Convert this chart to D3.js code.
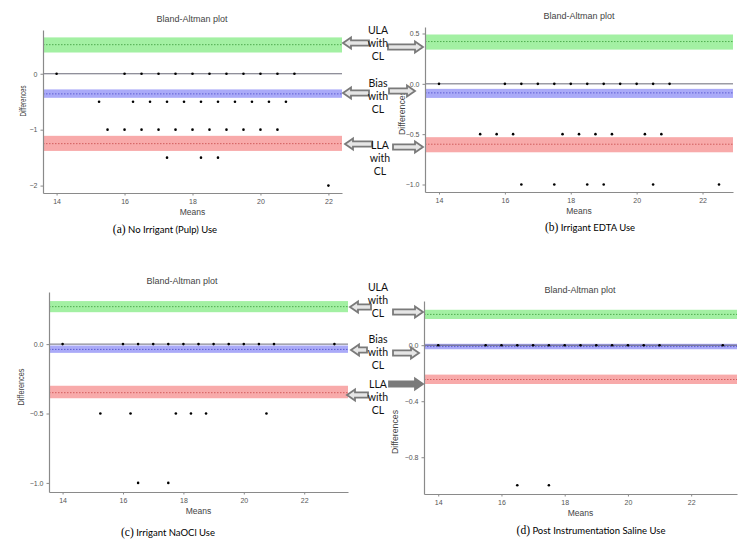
<!DOCTYPE html>
<html>
<head>
<meta charset="utf-8">
<script src="https://cdn.jsdelivr.net/npm/d3@7"></script>
<style>
  body { margin: 0; background: #fff; }
  svg { display: block; }
</style>
</head>
<body>
<svg id="fig" width="750" height="551"></svg>
<script>
// (a) No Irrigant (Pulp)
const aMeans = [14, 16, 16.5, 17, 17.5, 18, 18.5, 19, 19.5, 20, 20.5, 21,
  15.25, 16.25, 16.75, 17.25, 17.75, 18.25, 18.75, 19.25, 19.75, 20.25, 20.75,
  15.5, 16, 16.5, 17, 17.5, 18, 18.5, 19, 19.5, 20, 20.5,
  17.25, 18.25, 18.75,
  22]
const aDiffs = [0, 0, 0, 0, 0, 0, 0, 0, 0, 0, 0, 0,
  -0.5, -0.5, -0.5, -0.5, -0.5, -0.5, -0.5, -0.5, -0.5, -0.5, -0.5,
  -1, -1, -1, -1, -1, -1, -1, -1, -1, -1, -1,
  -1.5, -1.5, -1.5,
  -2]
// [estimate, lower CL, upper CL] for ULA, bias, LLA
const aLimits = [[0.52, 0.38, 0.65], [-0.36, -0.43, -0.28], [-1.25, -1.38, -1.11]]
const aTicks = [0, -1, -2]

// (b) Irrigant EDTA
const bMeans = [14, 16, 16.5, 17, 17.5, 18, 18.5, 19, 19.5, 20, 20.5, 21,
  15.25, 15.75, 16.25, 17.75, 18.25, 18.75, 19.25, 20.25, 20.75,
  16.5, 17.5, 18.5, 19, 20.5, 22.5]
const bDiffs = [0, 0, 0, 0, 0, 0, 0, 0, 0, 0, 0, 0,
  -0.5, -0.5, -0.5, -0.5, -0.5, -0.5, -0.5, -0.5, -0.5,
  -1, -1, -1, -1, -1, -1]
const bLimits = [[0.42, 0.34, 0.49], [-0.09, -0.14, -0.05], [-0.6, -0.68, -0.53]]
const bTicks = [0.5, 0, -0.5, -1]

// (c) Irrigant NaOCl
const cMeans = [14, 16, 16.5, 17, 17.5, 18, 18.5, 19, 19.5, 20, 20.5, 21, 23,
  15.25, 16.25, 17.75, 18.25, 18.75, 20.75,
  16.5, 17.5]
const cDiffs = [0, 0, 0, 0, 0, 0, 0, 0, 0, 0, 0, 0, 0,
  -0.5, -0.5, -0.5, -0.5, -0.5, -0.5,
  -1, -1]
const cLimits = [[0.27, 0.23, 0.31], [-0.038, -0.063, -0.01], [-0.35, -0.39, -0.30]]
const cTicks = [0, -0.5, -1]

// (d) Post Instrumentation Saline
const dMeans = [14, 15.5, 16, 16.5, 17, 17.5, 18, 18.5, 19, 19.5, 20, 20.5, 21, 23,
  16.5, 17.5]
const dDiffs = [0, 0, 0, 0, 0, 0, 0, 0, 0, 0, 0, 0, 0, 0,
  -1, -1]
const dLimits = [[0.22, 0.187, 0.253], [-0.01, -0.029, 0.01], [-0.245, -0.277, -0.21]]
const dTicks = [0, -0.4, -0.8]

const xTicks = [14, 16, 18, 20, 22]
const bandFill = ["#a3f0a3", "#aaaaf8", "#f8aaaa"]
const bandLine = ["#3a9a3a", "#4a4ac8", "#c84a4a"]

const panels = [
  {means: aMeans, diffs: aDiffs, limits: aLimits, yTicks: aTicks, fmt: d3.format("d"),
   box: [43, 342, 30, 193], titleX: 192, yLab: [23, 101, 31], label: "(a)", caption: " No Irrigant (Pulp) Use", capX: 165, capY: 233},
  {means: bMeans, diffs: bDiffs, limits: bLimits, yTicks: bTicks, fmt: d3.format(".1f"),
   box: [425, 733, 27, 192], titleX: 579, yLab: [402, 113, 44], label: "(b)", caption: " Irrigant EDTA Use", capX: 590, capY: 231},
  {means: cMeans, diffs: cDiffs, limits: cLimits, yTicks: cTicks, fmt: d3.format(".1f"),
   box: [49, 348, 292, 492], titleX: 182, yLab: [21, 387, 37], label: "(c)", caption: " Irrigant NaOCl Use", capX: 168, capY: 536},
  {means: dMeans, diffs: dDiffs, limits: dLimits, yTicks: dTicks, fmt: d3.format(".1f"),
   box: [424, 737, 301, 494], titleX: 580, yLab: [395, 432, 44], label: "(d)", caption: " Post Instrumentation Saline Use", capX: 591, capY: 534}
]

const svg = d3.select("#fig")
const axisFont = "'Liberation Sans', Arial, sans-serif"
const noteFont = "Lato, 'Open Sans', sans-serif"

// ggplot-like 5% expansion
const expand = ext => {
  const pad = (ext[1] - ext[0]) * 0.05
  return [ext[0] - pad, ext[1] + pad]
}

panels.forEach(p => {
  const [left, right, top, bottom] = p.box
  const x = d3.scaleLinear().domain(expand(d3.extent(p.means))).range([left, right])
  const yLo = Math.min(d3.min(p.diffs), d3.min(p.limits, d => d[1]))
  const yHi = Math.max(d3.max(p.diffs), d3.max(p.limits, d => d[2]))
  const y = d3.scaleLinear().domain(expand([yLo, yHi])).range([bottom, top])

  const g = svg.append("g")

  // confidence bands
  g.selectAll("rect.band")
    .data(p.limits)
    .join("rect")
    .attr("class", "band")
    .attr("x", left)
    .attr("width", right - left)
    .attr("y", d => y(d[2]))
    .attr("height", d => y(d[1]) - y(d[2]))
    .attr("fill", (d, i) => bandFill[i])

  g.selectAll("line.est")
    .data(p.limits)
    .join("line")
    .attr("class", "est")
    .attr("x1", left).attr("x2", right)
    .attr("y1", d => y(d[0])).attr("y2", d => y(d[0]))
    .attr("stroke", (d, i) => bandLine[i])
    .attr("stroke-width", 0.8)
    .attr("stroke-dasharray", "1.5,1.5")

  // zero line
  g.append("line")
    .attr("x1", left).attr("x2", right)
    .attr("y1", y(0)).attr("y2", y(0))
    .attr("stroke", "#5a5a6a")
    .attr("stroke-width", 0.9)

  // points
  g.selectAll("circle")
    .data(p.means)
    .join("circle")
    .attr("cx", d => x(d))
    .attr("cy", (d, i) => y(p.diffs[i]))
    .attr("r", 1.3)
    .attr("fill", "#000")

  // axes
  const xAxis = g.append("g")
    .attr("transform", `translate(0,${bottom})`)
    .call(d3.axisBottom(x).tickValues(xTicks).tickSize(2.5).tickPadding(4).tickSizeOuter(0))
  const yAxis = g.append("g")
    .attr("transform", `translate(${left},0)`)
    .call(d3.axisLeft(y).tickValues(p.yTicks).tickFormat(p.fmt).tickSize(2.5).tickPadding(3).tickSizeOuter(0))

  ;[xAxis, yAxis].forEach(ax => {
    ax.select(".domain").attr("stroke", "#8a8a8a").attr("stroke-width", 1.2)
    ax.selectAll(".tick line").attr("stroke", "#8a8a8a")
    ax.selectAll(".tick text")
      .attr("fill", "#555")
      .style("font-family", axisFont)
      .style("font-size", "7px")
  })

  // titles and labels
  g.append("text")
    .attr("x", p.titleX).attr("y", top - 8)
    .attr("text-anchor", "middle")
    .style("font-family", axisFont).style("font-size", "9px")
    .attr("fill", "#444")
    .text("Bland-Altman plot")

  g.append("text")
    .attr("x", (left + right) / 2).attr("y", bottom + 22)
    .attr("text-anchor", "middle")
    .style("font-family", axisFont).style("font-size", "8.5px")
    .attr("fill", "#444")
    .text("Means")

  g.append("text")
    .attr("transform", `translate(${p.yLab[0]},${p.yLab[1]}) rotate(-90)`)
    .attr("text-anchor", "middle")
    .attr("dy", "0.35em")
    .attr("textLength", p.yLab[2])
    .attr("lengthAdjust", "spacingAndGlyphs")
    .style("font-family", axisFont).style("font-size", "8.5px")
    .attr("fill", "#444")
    .text("Differences")

  const cap = g.append("text")
    .attr("x", p.capX).attr("y", p.capY)
    .attr("text-anchor", "middle")
  cap.append("tspan")
    .style("font-family", "'Liberation Serif', serif").style("font-size", "11.5px")
    .text(p.label)
  cap.append("tspan")
    .style("font-family", noteFont).style("font-size", "9.5px")
    .text(p.caption)
})

// annotations between the panels
const notes = [
  {lines: ["ULA", "with", "CL"], x: 378, y: 30, left: [343, 369, 43], right: [388, 423, 47]},
  {lines: ["Bias", "with", "CL"], x: 378, y: 83, left: [343, 369, 93], right: [389, 415, 91]},
  {lines: ["LLA", "with", "CL"], x: 380, y: 145, left: [345, 372, 144], right: [393, 423, 147]},
  {lines: ["ULA", "with", "CL"], x: 378, y: 287, left: [350, 371, 307], right: [393, 423, 312]},
  {lines: ["Bias", "with", "CL"], x: 378, y: 339, left: [351, 367, 350], right: [393, 419, 353]},
  {lines: ["LLA", "with", "CL"], x: 378, y: 384, left: [347, 368, 395], right: [389, 423, 384]}
]

const blockArrow = (x0, x1, yc, dir) => {
  const head = 8, sh = 2.6, hh = 5.5
  if (dir > 0) {
    const hx = x1 - head
    return `M${x0},${yc - sh}L${hx},${yc - sh}L${hx},${yc - hh}L${x1},${yc}L${hx},${yc + hh}L${hx},${yc + sh}L${x0},${yc + sh}Z`
  }
  const hx = x0 + head
  return `M${x1},${yc - sh}L${hx},${yc - sh}L${hx},${yc - hh}L${x0},${yc}L${hx},${yc + hh}L${hx},${yc + sh}L${x1},${yc + sh}Z`
}

const ann = svg.append("g")
notes.forEach((n, k) => {
  ann.append("path")
    .attr("d", blockArrow(n.left[0], n.left[1], n.left[2], -1))
    .attr("fill", "#e6e6e6").attr("stroke", "#7a7a7a").attr("stroke-width", 1.8)
  ann.append("path")
    .attr("d", blockArrow(n.right[0], n.right[1], n.right[2], 1))
    .attr("fill", (k === 5) ? "#7a7a7a" : "#e6e6e6").attr("stroke", "#7a7a7a").attr("stroke-width", 1.8)
  ann.append("text")
    .attr("text-anchor", "middle")
    .style("font-family", noteFont).style("font-size", "10.5px")
    .attr("fill", "#111")
    .selectAll("tspan")
    .data(n.lines)
    .join("tspan")
    .attr("x", n.x)
    .attr("y", (d, i) => n.y + 4 + i * 13)
    .text(d => d)
})
</script>
</body>
</html>
